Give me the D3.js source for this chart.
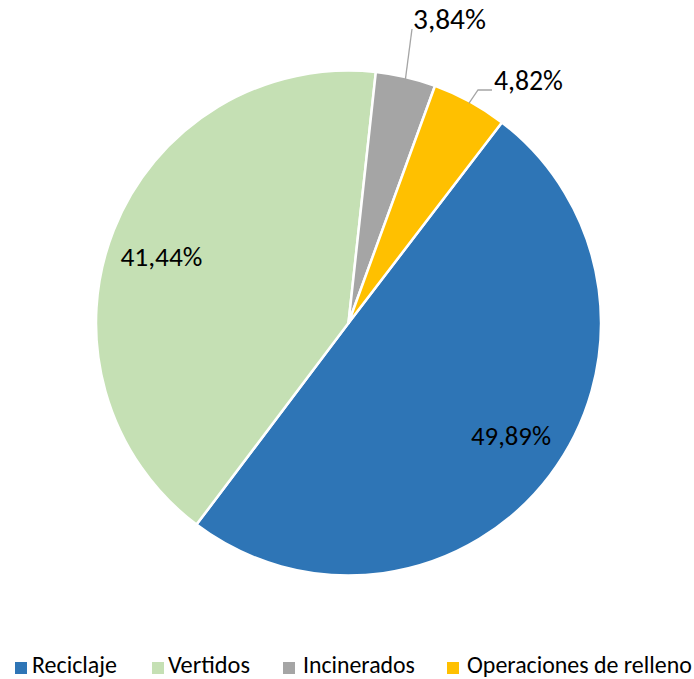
<!DOCTYPE html>
<html><head><meta charset="utf-8">
<script src="https://cdn.jsdelivr.net/npm/d3@7"></script>
<style>body{margin:0;background:#fff}svg{display:block}text{font-family:Carlito,"Open Sans","Noto Sans",sans-serif}</style>
</head><body><svg id="c" width="694" height="679"></svg>
<script>
const categories = ["Reciclaje", "Vertidos", "Incinerados", "Operaciones de relleno"];
const values = [49.89, 41.44, 3.84, 4.82];
const labels = ["49,89%", "41,44%", "3,84%", "4,82%"];
const colors = ["#2E75B6", "#C5E0B4", "#A5A5A5", "#FFC000"];

const svg = d3.select("#c");
const cx = 348.5, cy = 323, R = 252.5;
const startDeg = 37.4;
const pie = d3.pie().sort(null).value(d => d)
  .startAngle(startDeg * Math.PI / 180).endAngle((startDeg + 360) * Math.PI / 180);
const arcs = pie(values);
const arc = d3.arc().innerRadius(0).outerRadius(R);
const g = svg.append("g").attr("transform", `translate(${cx},${cy})`);
g.selectAll("path").data(arcs).enter().append("path")
  .attr("d", arc).attr("fill", (d, i) => colors[i])
  .attr("stroke", "#fff").attr("stroke-width", 2.5).attr("stroke-linejoin", "round");

function fit(t, w) {
  const base = 20; t.attr("font-size", base);
  const len = t.node().getComputedTextLength();
  t.attr("font-size", base * w / len);
}
function polar(r, a) { return [r * Math.sin(a), -r * Math.cos(a)]; }
// inside labels
const inW = [80, 82];
[0, 1].forEach(i => {
  const a = (arcs[i].startAngle + arcs[i].endAngle) / 2 - 2.3 * Math.PI / 180;
  const [x, y] = polar(R * 0.785, a);
  const t = g.append("text").attr("x", x).attr("y", y + 9)
    .attr("text-anchor", "middle").attr("fill", "#000").text(labels[i]);
  fit(t, inW[i]);
});
// outside labels with leader lines
const outer = [
  { i: 2, tx: 413, ty: 29, w: 73, ends: [[412, 29]] },
  { i: 3, tx: 494, ty: 90, w: 69, ends: [[478, 90], [492, 90]] }
];
outer.forEach(o => {
  const a = (arcs[o.i].startAngle + arcs[o.i].endAngle) / 2;
  const p = polar(R - 2, a);
  const pts = [p].concat(o.ends.map(e => [e[0] - cx, e[1] - cy]));
  g.append("path").attr("d", d3.line()(pts)).attr("fill", "none")
    .attr("stroke", "#A5A5A5").attr("stroke-width", 1.3);
  const t = svg.append("text").attr("x", o.tx).attr("y", o.ty)
    .attr("fill", "#000").text(labels[o.i]);
  fit(t, o.w);
});

// legend
const lg = svg.append("g");
const lx = [15, 152, 283, 447];
const tx = [32, 168, 303, 467];
const tw = [85, 82, 112, 225];
categories.forEach((c, i) => {
  lg.append("rect").attr("x", lx[i]).attr("y", 662).attr("width", 12).attr("height", 12).attr("fill", colors[i]);
  const t = lg.append("text").attr("x", tx[i]).attr("y", 673).attr("fill", "#000").text(c);
  fit(t, tw[i]);
});
</script></body></html>
